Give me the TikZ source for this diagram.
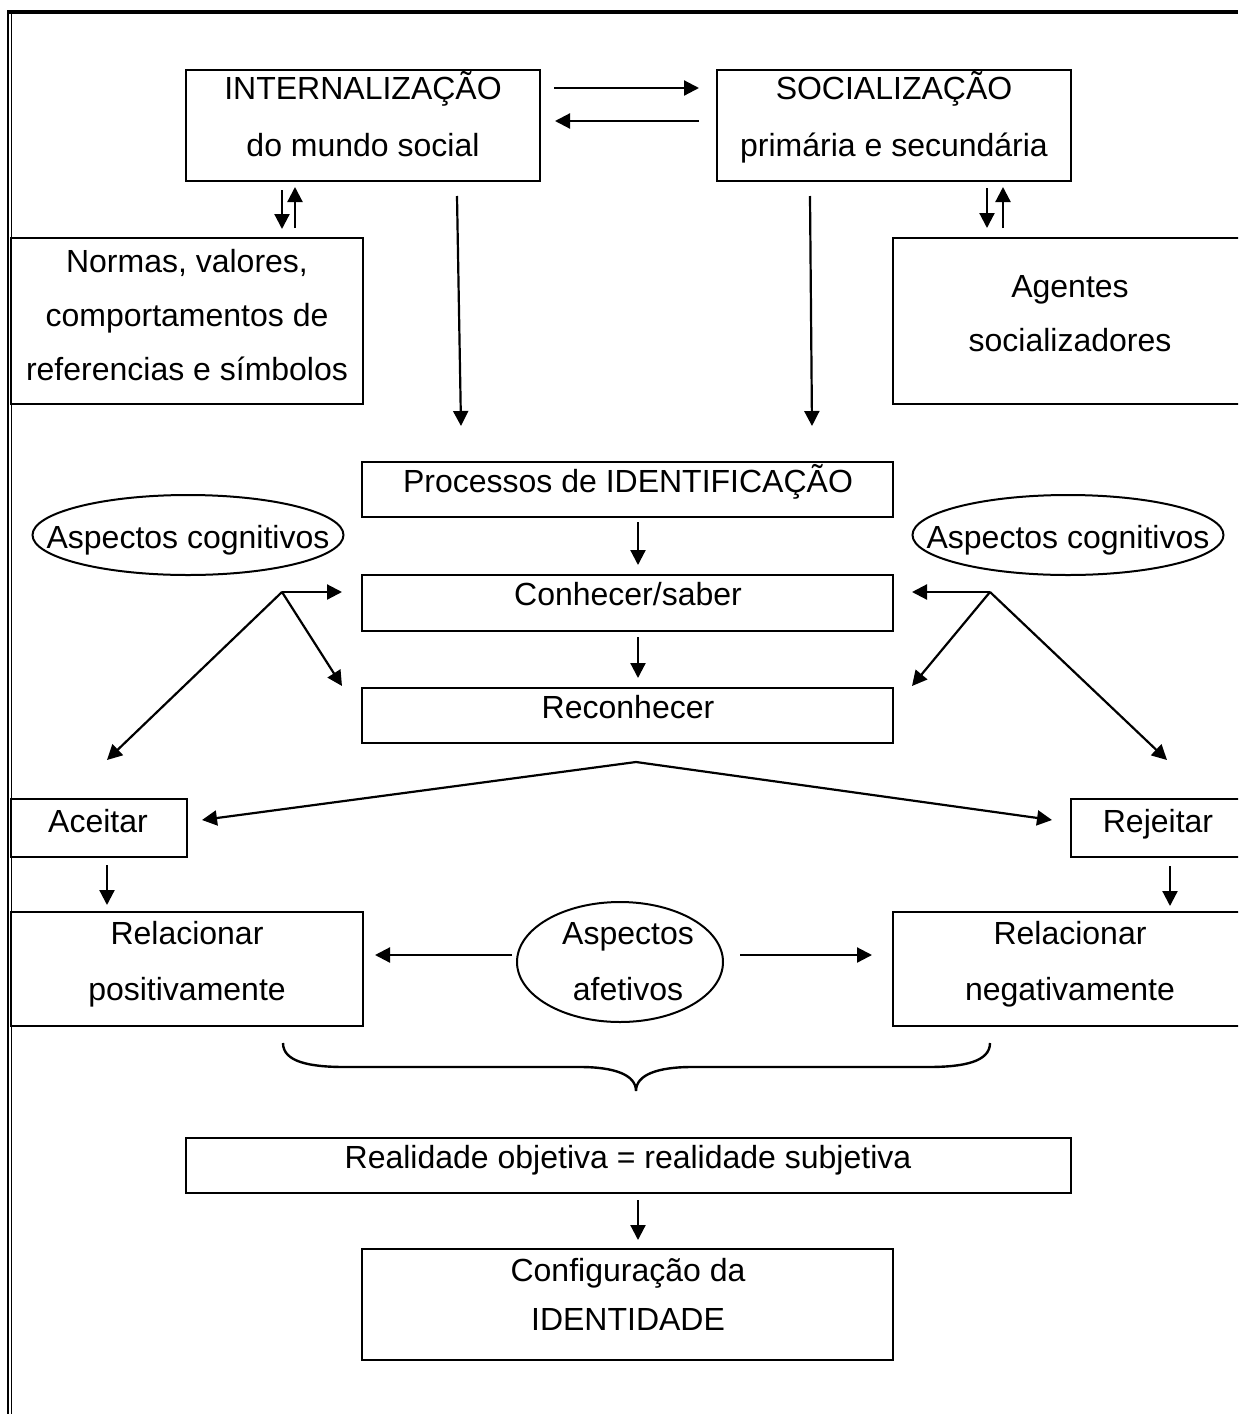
\documentclass[tikz,border=0pt]{standalone}
\usepackage{fontspec}
\setmainfont{Liberation Sans}
\usetikzlibrary{arrows.meta,shapes.geometric,fit}
\begin{document}
\begin{tikzpicture}[x=0.5pt,y=-0.5pt,
  boxst/.style={draw, line width=1.2pt, inner sep=0pt},
  ellst/.style={draw, ellipse, line width=1pt, inner sep=0pt},
  txt/.style={font=\fontsize{16pt}{19pt}\selectfont, inner sep=0pt, anchor=base},
  arr/.style={-{Triangle[length=7.5pt,width=7.5pt]}, line width=1.1pt},
  plain/.style={line width=1.2pt}]
\useasboundingbox (0,0) rectangle (1238,1414);
\clip (0,0) rectangle (1238,1414);
% page border
\draw[line width=1.6pt] (7,12) -- (1238,12);
\draw[line width=0.9pt] (8,12) -- (8,1414);
\draw[line width=0.9pt] (11.5,12) -- (11.5,1414);
% boxes
\node[boxst, fit={(186,70) (540,181)}] (intern) {};
\node[boxst, fit={(717,70) (1071,181)}] (social) {};
\node[boxst, fit={(11,238) (363,404)}] (normas) {};
\node[boxst, fit={(893,238) (1248,404)}] (agentes) {};
\node[boxst, fit={(362,462) (893,517)}] (proc) {};
\node[boxst, fit={(362,575) (893,631)}] (conh) {};
\node[boxst, fit={(362,688) (893,743)}] (recon) {};
\node[boxst, fit={(11,799) (187,857)}] (aceitar) {};
\node[boxst, fit={(1071,799) (1248,857)}] (rejeitar) {};
\node[boxst, fit={(11,912) (363,1026)}] (relpos) {};
\node[boxst, fit={(893,912) (1248,1026)}] (relneg) {};
\node[boxst, fit={(186,1138) (1071,1193)}] (realid) {};
\node[boxst, fit={(362,1249) (893,1360)}] (config) {};
% ellipses
\node[ellst, minimum width=155.5pt, minimum height=40pt] (cogL) at (188,535) {};
\node[ellst, minimum width=155.5pt, minimum height=40pt] (cogR) at (1068,535) {};
\node[ellst, minimum width=103pt, minimum height=60pt] (afet) at (620,962) {};
% texts
\node[txt] (t1) at (363,99) {INTERNALIZAÇÃO};
\node[txt] (t2) at (363,156) {do mundo social};
\node[txt] (t3) at (894,99) {SOCIALIZAÇÃO};
\node[txt] (t4) at (894,156) {primária e secundária};
\node[txt] (t5) at (187,272) {Normas, valores,};
\node[txt] (t6) at (187,326) {comportamentos de};
\node[txt] (t7) at (187,380) {referencias e símbolos};
\node[txt] (t8) at (1070,297) {Agentes};
\node[txt] (t9) at (1070,351) {socializadores};
\node[txt] (t10) at (628,492) {Processos de IDENTIFICAÇÃO};
\node[txt] (t11) at (188,548) {Aspectos cognitivos};
\node[txt] (t12) at (1068,548) {Aspectos cognitivos};
\node[txt] (t13) at (628,605) {Conhecer/saber};
\node[txt] (t14) at (628,718) {Reconhecer};
\node[txt] (t15) at (98,832) {Aceitar};
\node[txt] (t16) at (1158,832) {Rejeitar};
\node[txt] (t17) at (187,944) {Relacionar};
\node[txt] (t18) at (187,1000) {positivamente};
\node[txt] (t19) at (628,944) {Aspectos};
\node[txt] (t20) at (628,1000) {afetivos};
\node[txt] (t21) at (1070,944) {Relacionar};
\node[txt] (t22) at (1070,1000) {negativamente};
\node[txt] (t23) at (628,1168) {Realidade objetiva = realidade subjetiva};
\node[txt] (t24) at (628,1281) {Configuração da};
\node[txt] (t25) at (628,1330) {IDENTIDADE};
% connector coordinates
\coordinate (is1) at (554,88);  \coordinate (ie1) at (699,88);
\coordinate (is2) at (699,121); \coordinate (ie2) at (555,121);
\coordinate (nd1) at (282,190); \coordinate (nd2) at (282,229);
\coordinate (nu1) at (295,228); \coordinate (nu2) at (295,187);
\coordinate (ad1) at (987,188); \coordinate (ad2) at (987,228);
\coordinate (au1) at (1003,228); \coordinate (au2) at (1003,187);
\coordinate (li1) at (457,196); \coordinate (li2) at (461,426);
\coordinate (ls1) at (810,196); \coordinate (ls2) at (812,426);
\coordinate (pc1) at (638,522); \coordinate (pc2) at (638,565);
\coordinate (cr1) at (638,637); \coordinate (cr2) at (638,678);
\coordinate (bl) at (282,592);
\coordinate (bl1) at (342,592); \coordinate (bl2) at (342,686); \coordinate (bl3) at (107,760);
\coordinate (br) at (990,592);
\coordinate (br1) at (912,592); \coordinate (br2) at (912,686); \coordinate (br3) at (1167,760);
\coordinate (apex) at (636,762);
\coordinate (ap1) at (202,820); \coordinate (ap2) at (1052,820);
\coordinate (ac1) at (107,865); \coordinate (ac2) at (107,905);
\coordinate (rj1) at (1170,866); \coordinate (rj2) at (1170,906);
\coordinate (af1) at (512,955); \coordinate (af2) at (375,955);
\coordinate (af3) at (740,955); \coordinate (af4) at (872,955);
\coordinate (rc1) at (638,1200); \coordinate (rc2) at (638,1240);
% connectors
\draw[arr] (is1) -- (ie1);
\draw[arr] (is2) -- (ie2);
\draw[arr] (nd1) -- (nd2);
\draw[arr] (nu1) -- (nu2);
\draw[arr] (ad1) -- (ad2);
\draw[arr] (au1) -- (au2);
\draw[arr] (li1) -- (li2);
\draw[arr] (ls1) -- (ls2);
\draw[arr] (pc1) -- (pc2);
\draw[arr] (cr1) -- (cr2);
\draw[arr] (bl) -- (bl1);
\draw[arr] (bl) -- (bl2);
\draw[arr] (bl) -- (bl3);
\draw[arr] (br) -- (br1);
\draw[arr] (br) -- (br2);
\draw[arr] (br) -- (br3);
\draw[arr] (apex) -- (ap1);
\draw[arr] (apex) -- (ap2);
\draw[arr] (ac1) -- (ac2);
\draw[arr] (rj1) -- (rj2);
\draw[arr] (af1) -- (af2);
\draw[arr] (af3) -- (af4);
\draw[arr] (rc1) -- (rc2);
% brace
\coordinate (bra) at (283,1043);
\coordinate (brtip) at (636,1091);
\coordinate (brb) at (990,1043);
\draw[plain] (bra) .. controls (283,1062) and (310,1067) .. (345,1067)
  -- (580,1067) .. controls (615,1067) and (636,1075) .. (brtip)
  .. controls (636,1075) and (657,1067) .. (692,1067)
  -- (928,1067) .. controls (963,1067) and (990,1062) .. (brb);
\end{tikzpicture}
\end{document}
